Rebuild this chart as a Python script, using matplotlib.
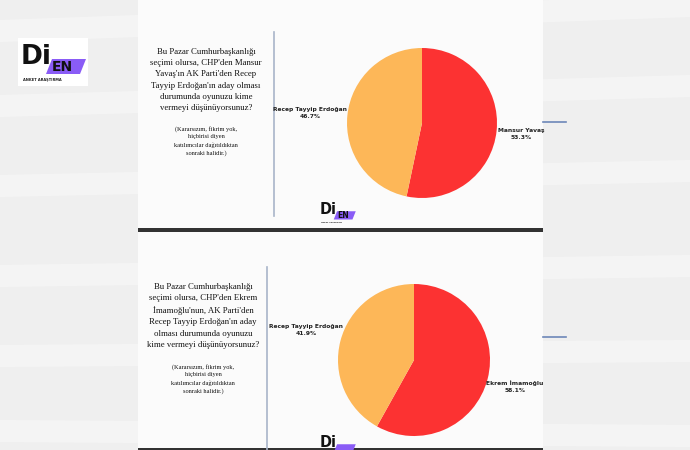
import matplotlib
matplotlib.use('Agg')
import matplotlib.pyplot as plt
from matplotlib.patches import Rectangle, Polygon

# poll results
q1_labels = ['Mansur Yavaş', 'Recep Tayyip Erdoğan']
q1_values = [53.3, 46.7]
q2_labels = ['Ekrem İmamoğlu', 'Recep Tayyip Erdoğan']
q2_values = [58.1, 41.9]
slice_colors = ['#fc3232', '#fdb758']

q1_text = ("Bu Pazar Cumhurbaşkanlığı\nseçimi olursa, CHP'den Mansur\n"
           "Yavaş'ın AK Parti'den Recep\nTayyip Erdoğan'ın aday olması\n"
           "durumunda oyunuzu kime\nvermeyi düşünüyorsunuz?")
q2_text = ("Bu Pazar Cumhurbaşkanlığı\nseçimi olursa, CHP'den Ekrem\n"
           "İmamoğlu'nun, AK Parti'den\nRecep Tayyip Erdoğan'ın aday\n"
           "olması durumunda oyunuzu\nkime vermeyi düşünüyorsunuz?")
note_text = ("(Kararsızım, fikrim yok,\nhiçbirisi diyen\n"
             "katılımcılar dağıtıldıktan\nsonraki halidir.)")

W, H = 690, 450
fig = plt.figure(figsize=(6.9, 4.5), dpi=100)
fig.patch.set_facecolor('#efefef')
ax = fig.add_axes([0, 0, 1, 1])


def Y(y):
    # pixel row (from top) -> data y
    return H - y


# faint background streaks
for y0, dy in [(20, -25), (95, -20), (175, -15), (265, -10), (345, -5), (420, 5)]:
    ax.add_patch(Polygon([(0, Y(y0)), (W, Y(y0 + dy)), (W, Y(y0 + dy + 22)), (0, Y(y0 + 22))],
                         closed=True, facecolor='white', alpha=0.35, lw=0, zorder=0))

# slide panels
ax.add_patch(Rectangle((138, Y(228)), 405, 228, facecolor='#fbfbfb', lw=0, zorder=1))
ax.add_patch(Rectangle((138, Y(450)), 405, 218, facecolor='#fbfbfb', lw=0, zorder=1))
ax.add_patch(Rectangle((138, Y(232)), 405, 4, facecolor='#333333', lw=0, zorder=2))
ax.add_patch(Rectangle((138, Y(450)), 405, 2, facecolor='#333333', lw=0, zorder=2))

# divider lines
ax.plot([274, 274], [Y(32), Y(216)], color='#a9b5c9', lw=1.2, zorder=3)
ax.plot([267, 267], [Y(267), Y(450)], color='#a9b5c9', lw=1.2, zorder=3)
ax.plot([543, 566], [Y(122), Y(122)], color='#6d87b8', lw=1.2, zorder=3)
ax.plot([543, 566], [Y(337), Y(337)], color='#6d87b8', lw=1.2, zorder=3)


def logo(x, y, s, full=True):
    ax.text(x, Y(y), 'Di', fontsize=19 * s, fontweight='bold', color='#111111',
            ha='left', va='baseline', zorder=5)
    px = x + 27 * s
    py = y - 5 * s
    ax.add_patch(Polygon([(px + 4 * s, Y(py)), (px + 38 * s, Y(py)),
                          (px + 32 * s, Y(py + 15 * s)), (px - 2 * s, Y(py + 15 * s))],
                         closed=True, facecolor='#8a5cf6', lw=0, zorder=4))
    if full:
        ax.text(px + 4 * s, Y(py + 8 * s), 'EN', fontsize=10 * s, fontweight='bold',
                color='#111111', ha='left', va='center', zorder=5)
        ax.text(x + 2 * s, Y(y + 16 * s), 'ANKET ARAŞTIRMA', fontsize=2.6 * s,
                fontweight='bold', color='#222222', ha='left', va='center', zorder=5)


ax.add_patch(Rectangle((18, Y(86)), 70, 48, facecolor='white', lw=0, zorder=3))
logo(21, 64, 1.0)
logo(320, 214, 0.55)
logo(320, 447, 0.55, full=False)

# question texts
serif = ['Liberation Serif', 'DejaVu Serif']
ax.text(206, Y(80), q1_text, ha='center', va='center', fontsize=6.3, family=serif,
        color='#111111', linespacing=1.55, zorder=5)
ax.text(206, Y(141), note_text, ha='center', va='center', fontsize=4.6, family=serif,
        color='#111111', linespacing=1.6, zorder=5)
ax.text(203, Y(316), q2_text, ha='center', va='center', fontsize=6.3, family=serif,
        color='#111111', linespacing=1.55, zorder=5)
ax.text(203, Y(379), note_text, ha='center', va='center', fontsize=4.6, family=serif,
        color='#111111', linespacing=1.6, zorder=5)

# pies
ax.pie(q1_values, colors=slice_colors, startangle=90, counterclock=False,
       center=(422, Y(123)), radius=75, frame=True,
       wedgeprops=dict(linewidth=0, zorder=4))
ax.pie(q2_values, colors=slice_colors, startangle=90, counterclock=False,
       center=(414, Y(360)), radius=76, frame=True,
       wedgeprops=dict(linewidth=0, zorder=4))

# slice labels
lab = dict(ha='center', va='center', fontsize=4.3, fontweight='bold', color='#222222',
           linespacing=1.5, zorder=6)
ax.text(310, Y(113), f'{q1_labels[1]}\n{q1_values[1]}%', **lab)
ax.text(521, Y(134), f'{q1_labels[0]}\n{q1_values[0]}%', **lab)
ax.text(306, Y(330), f'{q2_labels[1]}\n{q2_values[1]}%', **lab)
ax.text(515, Y(387), f'{q2_labels[0]}\n{q2_values[0]}%', **lab)

ax.set_xlim(0, W)
ax.set_ylim(0, H)
ax.set_aspect('auto')
ax.axis('off')

fig.savefig('out.png', dpi=100)
